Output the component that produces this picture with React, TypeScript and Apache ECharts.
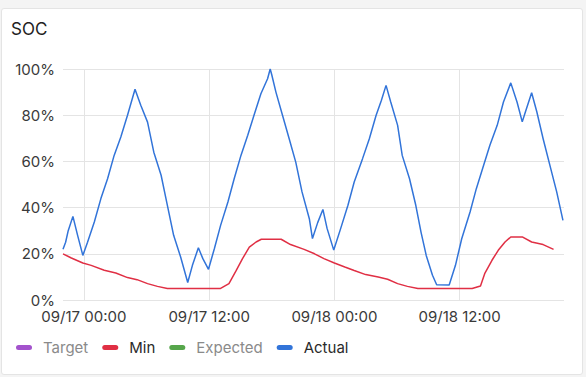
import React, { useEffect, useRef } from "react";
import * as echarts from "echarts";

const BASE = Date.UTC(2024, 8, 17, 0, 0); // 09/17 00:00, hour 0 of the x axis
const HOUR = 3600 * 1000;

const xStartHour = -2;
const xEndHour = 46;
const tickHours = [0, 12, 24, 36];
const yTicks = [0, 20, 40, 60, 80, 100];

const seriesNames = ["Target", "Min", "Expected", "Actual"];
const seriesColors = ["#A352CC", "#E02F44", "#56A64B", "#3274D9"];
const legendTextColors = ["#8a8a8a", "#2a2a2a", "#8a8a8a", "#2a2a2a"];

const actualHours = [
  -2, -1.75, -1.5, -1.05, -0.6, -0.1, 0.35, 1.0, 1.63, 2.27, 2.9, 3.54, 4.18, 4.9,
  5.45, 6.1, 6.7, 7.4, 8.0, 8.6, 9.27, 9.95, 10.4, 10.97, 11.4, 11.94, 12.5, 13.1,
  13.8, 14.4, 15.05, 15.7, 16.3, 16.96, 17.6, 17.85, 18.0, 18.4, 19.03, 19.67, 20.3,
  20.9, 21.6, 21.9, 22.4, 22.9, 23.3, 23.94, 24.6, 25.3, 25.9, 26.7, 27.35, 28.0,
  28.5, 28.95, 29.4, 30.06, 30.5, 31.2, 31.8, 32.3, 32.8, 33.4, 33.8, 35.0, 35.6,
  36.2, 37.0, 37.6, 38.3, 38.9, 39.6, 40.2, 40.9, 41.5, 42.0, 42.3, 42.9, 43.4, 44.0,
  44.65, 45.3, 45.9,
];
const actualValues = [
  22, 25, 30, 36.2, 28, 19.3, 25, 33.8, 43.9, 52.5, 62.6, 70.6, 80, 91.2,
  84.3, 77, 64, 54, 41, 28, 18.6, 7.6, 15, 22.6, 17.9, 13.3, 22.2, 32.3,
  42.4, 52.5, 62.6, 71.3, 80, 89.3, 95.8, 100, 97.5, 90, 80, 69.8, 59.7,
  46.8, 35.2, 26.6, 33.5, 39.2, 31, 21.6, 30.9, 41, 51.1, 61.2, 69.8, 80,
  86.4, 92.9, 85.7, 75.6, 62.6, 52.5, 41, 29.4, 19.3, 10.7, 6.6, 6.5, 15,
  26.5, 38.1, 48.2, 58.3, 67, 75.6, 85.7, 94, 85.7, 77.1, 81.4, 89.7, 81.4, 69.8,
  58.3, 46.8, 34.5,
];

const minHours = [
  -2, -1.2, -0.1, 0.7, 1.95, 3.06, 4.18, 5.1, 6.1, 7.05, 8.0, 13.1, 13.9, 14.6,
  15.2, 15.85, 16.5, 17.0, 18.9, 19.8, 21.1, 22.1, 23.0, 24.0, 25.0, 25.9, 27.0,
  28.2, 29.1, 30.06, 31.0, 32.0, 37.2, 38.0, 38.4, 39.1, 39.7, 40.35, 40.9, 42.0,
  42.9, 44.0, 45.0,
];
const minValues = [
  20, 18.2, 16, 15, 12.9, 11.7, 9.7, 8.8, 7.1, 5.9, 5, 5, 7.1, 12.8,
  17.9, 22.9, 25.1, 26.3, 26.3, 24, 21.9, 20, 17.9, 16, 14.3, 12.8, 11,
  10, 9, 7.1, 5.9, 5, 5, 6.1, 11.4, 17.2, 21.5, 25.1, 27.3, 27.3,
  25.1, 24, 21.9,
];

const pad = (n: number) => (n < 10 ? "0" + n : "" + n);
const fmtHour = (h: number) => {
  const d = new Date(BASE + h * HOUR);
  return (
    pad(d.getUTCMonth() + 1) + "/" + pad(d.getUTCDate()) + " " +
    pad(d.getUTCHours()) + ":" + pad(d.getUTCMinutes())
  );
};

const FONT = "Inter";

export default function App() {
  const ref = useRef<HTMLDivElement>(null);
  useEffect(() => {
    document.body.style.margin = "0";
    if (!ref.current) return;
    const chart = echarts.init(ref.current, undefined, { renderer: "svg" });
    const pill = "path://M2.5,0 L13.5,0 A2.5,2.5 0 0 1 13.5,5 L2.5,5 A2.5,2.5 0 0 1 2.5,0 Z";
    const dataFor: Record<string, any[]> = {
      Target: [],
      Min: minHours.map((h, i) => [h, minValues[i]]),
      Expected: [],
      Actual: actualHours.map((h, i) => [h, actualValues[i]]),
    };
    chart.setOption({
      animation: false,
      textStyle: { fontFamily: FONT },
      title: {
        text: "SOC",
        left: 11,
        top: 20,
        padding: 0,
        textStyle: { fontFamily: FONT, fontSize: 17, fontWeight: "normal", color: "#222" },
      },
      grid: { left: 63, right: 22, top: 69, bottom: 77, containLabel: false },
      legend: {
        left: 16,
        top: 340,
        padding: 0,
        icon: pill,
        itemWidth: 16,
        itemHeight: 5,
        itemGap: 14,
        selectedMode: false,
        textStyle: { fontFamily: FONT, fontSize: 15, padding: [0, 0, 0, 6] },
        data: seriesNames.map((n, i) => ({ name: n, textStyle: { color: legendTextColors[i] } })),
      },
      xAxis: {
        type: "value",
        min: xStartHour,
        max: xEndHour,
        axisLine: { show: false },
        axisTick: { show: false, customValues: tickHours },
        axisLabel: {
          customValues: tickHours,
          formatter: (v: number) => fmtHour(v),
          color: "#3a3a3a",
          fontSize: 15,
          fontFamily: FONT,
          margin: 9,
        },
        splitLine: { show: true, lineStyle: { color: "#e4e4e4", width: 1 } },
      },
      yAxis: {
        type: "value",
        min: yTicks[0],
        max: yTicks[yTicks.length - 1],
        interval: yTicks[1] - yTicks[0],
        axisLine: { show: false },
        axisTick: { show: false },
        axisLabel: { formatter: "{value}%", color: "#3a3a3a", fontSize: 15, fontFamily: FONT, margin: 8 },
        splitLine: { lineStyle: { color: "#e4e4e4", width: 1 } },
      },
      series: seriesNames.map((n, i) => ({
        name: n,
        type: "line",
        showSymbol: false,
        symbol: "none",
        color: seriesColors[i],
        lineStyle: { width: 1.5, color: seriesColors[i] },
        data: dataFor[n],
        z: n === "Actual" ? 3 : 2,
      })),
    });
    return () => chart.dispose();
  }, []);
  return (
    <div style={{ position: "fixed", left: 0, top: 0, width: 586, height: 377, background: "#f4f4f4" }}>
      <div
        style={{
          position: "absolute",
          left: 1,
          top: 8,
          width: 582,
          height: 367,
          background: "#fff",
          border: "1px solid #e4e4e4",
          borderRadius: 3,
          boxSizing: "border-box",
        }}
      />
      <div ref={ref} style={{ position: "absolute", left: 0, top: 0, width: 586, height: 377 }} />
    </div>
  );
}
